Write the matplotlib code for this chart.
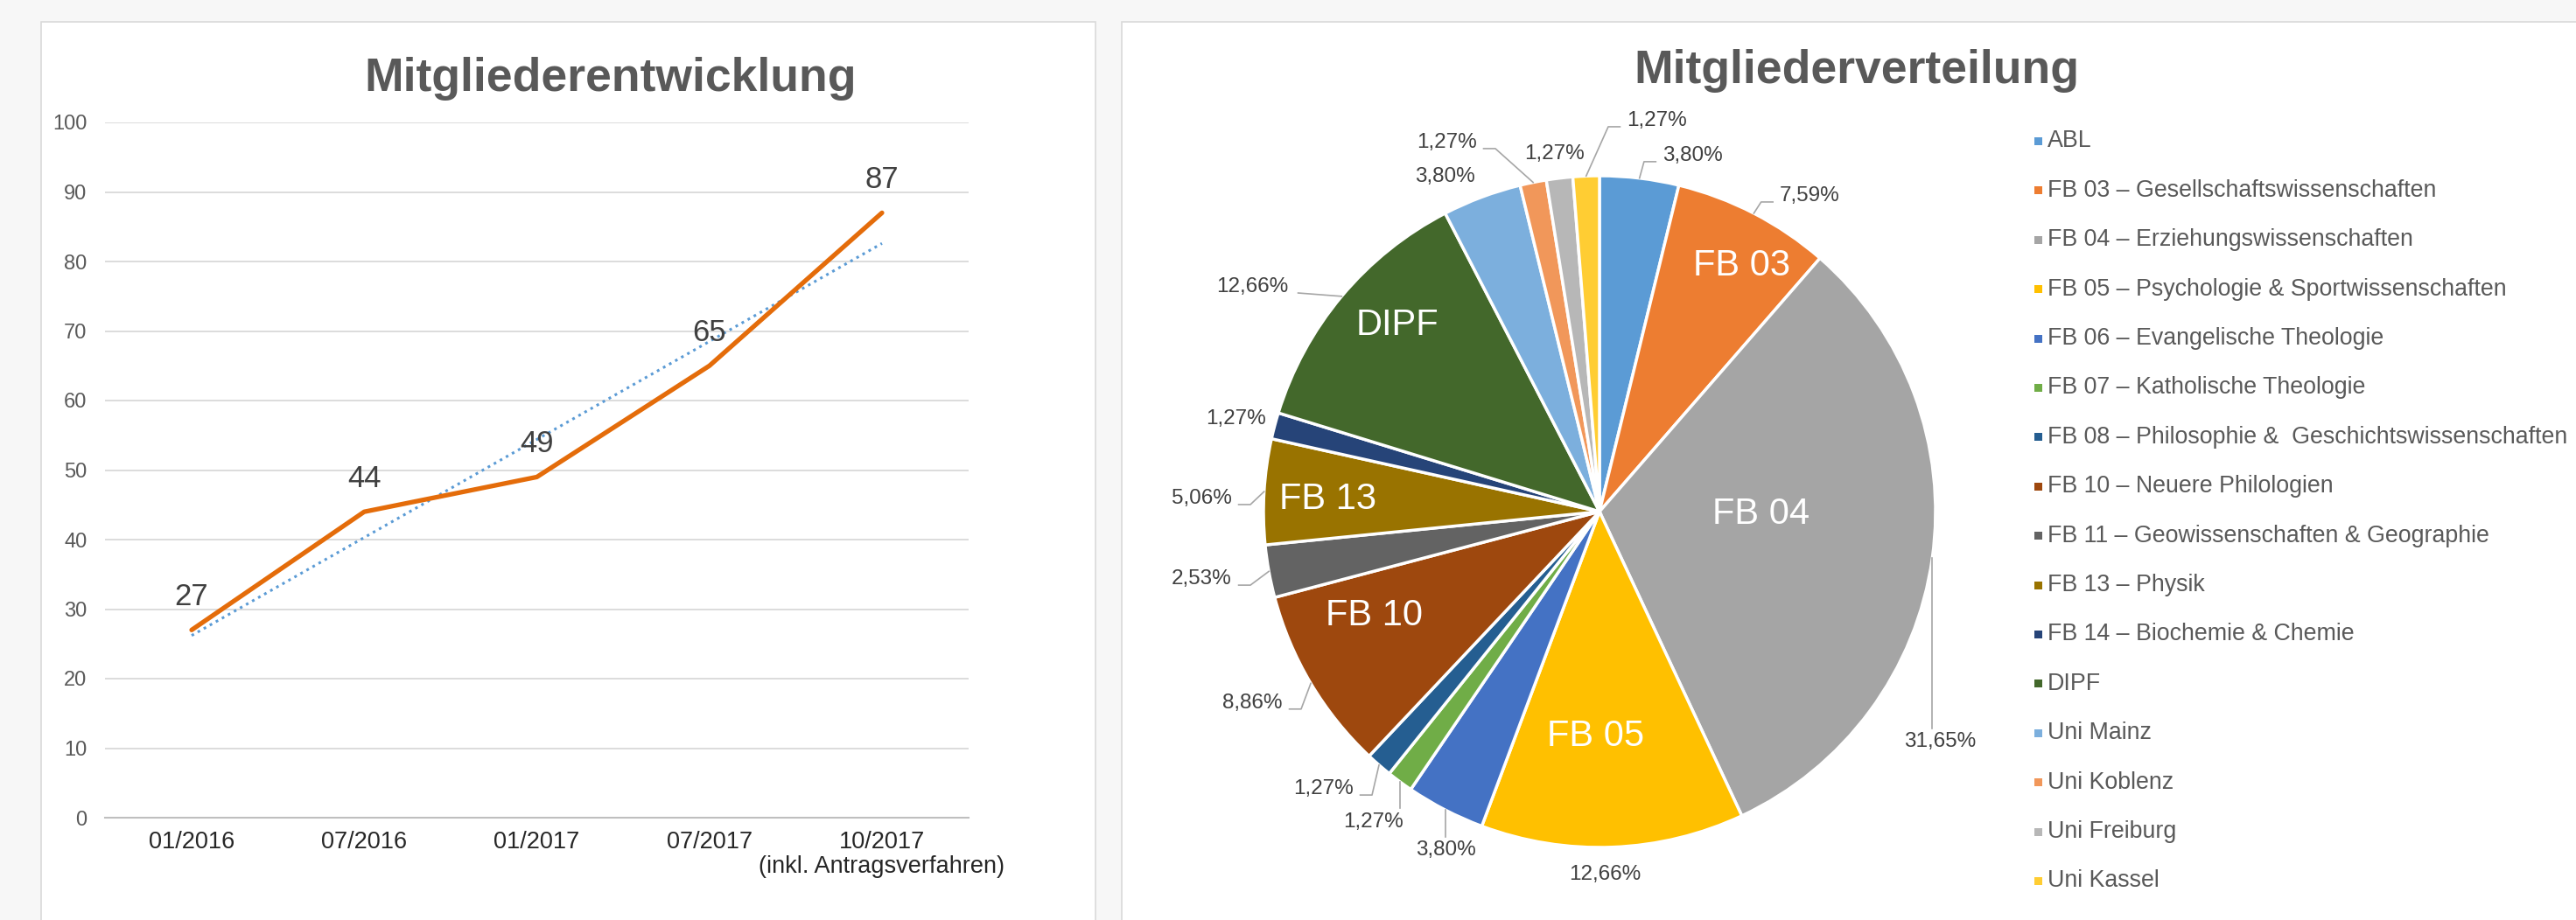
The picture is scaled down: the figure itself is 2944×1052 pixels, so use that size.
import numpy as np
import matplotlib.pyplot as plt
from matplotlib.patches import Rectangle

plt.rcParams['font.family'] = ['Liberation Sans', 'DejaVu Sans']

W, H = 2944, 1052

# line chart
dates = ['01/2016', '07/2016', '01/2017', '07/2017', '10/2017\n(inkl. Antragsverfahren)']
members = [27, 44, 49, 65, 87]

# pie chart
groups = ['ABL',
          'FB 03 – Gesellschaftswissenschaften',
          'FB 04 – Erziehungswissenschaften',
          'FB 05 – Psychologie & Sportwissenschaften',
          'FB 06 – Evangelische Theologie',
          'FB 07 – Katholische Theologie',
          'FB 08 – Philosophie &  Geschichtswissenschaften',
          'FB 10 – Neuere Philologien',
          'FB 11 – Geowissenschaften & Geographie',
          'FB 13 – Physik',
          'FB 14 – Biochemie & Chemie',
          'DIPF',
          'Uni Mainz',
          'Uni Koblenz',
          'Uni Freiburg',
          'Uni Kassel']
counts = [3, 6, 25, 10, 3, 1, 1, 7, 2, 4, 1, 10, 3, 1, 1, 1]
short = ['', 'FB 03', 'FB 04', 'FB 05', '', '', '', 'FB 10', '', 'FB 13', '', 'DIPF', '', '', '', '']
colors = ['#5B9BD5', '#ED7D31', '#A5A5A5', '#FFC000', '#4472C4', '#70AD47',
          '#255E91', '#9E480E', '#636363', '#997300', '#264478', '#43682B',
          '#7CAFDD', '#F1975A', '#B7B7B7', '#FFCD33']

# label layout (pie radius units): inner (r, angle shift), outer (x, y, ha, leader)
inner_pos = {1: (0.845, -2.7), 2: (0.48, 7.0), 3: (0.67, -3.3),
             7: (0.74, -5.9), 9: (0.81, 0.8), 11: (0.82, -2.8)}
pct_pos = [(0.1875, 1.060, 'left', 'elbow'),
           (0.536, 0.940, 'left', 'elbow'),
           (1.013, -0.685, 'center', 'vert'),
           (0.016, -1.081, 'center', 'none'),
           (-0.456, -1.008, 'center', 'vert'),
           (-0.674, -0.924, 'center', 'vert'),
           (-0.732, -0.826, 'right', 'elbow'),
           (-0.943, -0.570, 'right', 'elbow'),
           (-1.094, -0.201, 'right', 'elbow'),
           (-1.094, 0.039, 'right', 'elbow'),
           (-1.081, 0.276, 'center', 'none'),
           (-0.927, 0.669, 'right', 'straight'),
           (-0.461, 0.997, 'center', 'none'),
           (-0.365, 1.099, 'right', 'elbow'),
           (-0.135, 1.065, 'center', 'none'),
           (0.081, 1.164, 'left', 'elbow')]

fig = plt.figure(figsize=(W / 100, H / 100), dpi=100, facecolor='#F7F7F7')

def px(x, y, w, h):
    return [x / W, 1 - (y + h) / H, w / W, h / H]

# panels
for x0, x1 in [(47, 1252), (1282, 2990)]:
    fig.patches.append(Rectangle((x0 / W, -0.1), (x1 - x0) / W, 1 - 25 / H + 0.1,
                                 transform=fig.transFigure, facecolor='white',
                                 edgecolor='#D9D9D9', lw=1.2, zorder=-5))

fig.text(698 / W, 1 - 104 / H, 'Mitgliederentwicklung', ha='center', va='baseline',
         fontsize=38.5, fontweight='bold', color='#595959')
fig.text(2122 / W, 1 - 95 / H, 'Mitgliederverteilung', ha='center', va='baseline',
         fontsize=38.5, fontweight='bold', color='#595959')

# ---- line chart
ax = fig.add_axes(px(120.4, 140, 986.2, 795))
ax.set_facecolor('none')
x = np.arange(len(members))
ax.set_xlim(-0.5, 4.5)
ax.set_ylim(0, 100)
ax.set_yticks(range(0, 101, 10))
ax.set_xticks(x)
ax.set_xticklabels(dates, fontsize=19.5, color='#262626', linespacing=1.1)
ax.tick_params(axis='y', labelsize=17, labelcolor='#595959', length=0, pad=15)
ax.tick_params(axis='x', length=0, pad=11)
ax.grid(axis='y', color='#D9D9D9', lw=1.3)
ax.set_axisbelow(True)
for s in ['top', 'right', 'left']:
    ax.spines[s].set_visible(False)
ax.spines['bottom'].set_color('#BFBFBF')
ax.spines['bottom'].set_linewidth(1.5)

coef = np.polyfit(x, members, 1)
ax.plot(x, np.polyval(coef, x), color='#5B9BD5', lw=2.2, ls=(0, (1, 1.6)), zorder=2)
ax.plot(x, members, color='#E46C0A', lw=3.8, solid_capstyle='round', zorder=3)
for i, v in enumerate(members):
    ax.annotate(str(v), (i, v), xytext=(0, 27), textcoords='offset points',
                ha='center', va='center', fontsize=25, color='#404040', zorder=4)

# ---- pie chart
cx, cy, R, k = 1828, 585, 384, 1.5
pax = fig.add_axes(px(cx - R * k, cy - R * k, 2 * R * k, 2 * R * k))

total = sum(counts)
wedges, _ = pax.pie(counts, colors=colors, startangle=90, counterclock=False, radius=1,
                    wedgeprops=dict(edgecolor='white', linewidth=2.5))
pax.set_xlim(-k, k)
pax.set_ylim(-k, k)
pax.set_aspect('equal')
pax.axis('off')

for i, w in enumerate(wedges):
    mid = np.deg2rad((w.theta1 + w.theta2) / 2)
    if short[i]:
        r, dt = inner_pos[i]
        a = mid + np.deg2rad(dt)
        pax.text(r * np.cos(a), r * np.sin(a), short[i], ha='center', va='center',
                 fontsize=30, color='white')
    lx, ly, ha, lead = pct_pos[i]
    pct = f'{counts[i] / total * 100:.2f}'.replace('.', ',') + '%'
    pax.text(lx, ly, pct, ha=ha, va='center', fontsize=17.5, color='#404040')
    ex, ey = np.cos(mid), np.sin(mid)
    lc = dict(color='#A6A6A6', lw=1.2, zorder=1)
    if lead == 'vert':
        pax.plot([ex, ex], [ey, ly + 0.04], **lc)
    elif lead == 'elbow':
        sgn = -1 if ha == 'left' else 1
        yy = ly - 0.018
        pax.plot([ex, lx + sgn * 0.055, lx + sgn * 0.02], [ey, yy, yy], **lc)
    elif lead == 'straight':
        pax.plot([ex, lx + 0.03], [ey, ly - 0.018], **lc)

# legend
for i, g in enumerate(groups):
    yy = 161.5 + 56.4 * i
    fig.patches.append(Rectangle((2325 / W, 1 - (yy + 4.5) / H), 9 / W, 9 / H,
                                 transform=fig.transFigure, facecolor=colors[i],
                                 edgecolor='none', zorder=3))
    fig.text(2340 / W, 1 - yy / H, g, ha='left', va='center', fontsize=19.3, color='#595959')

fig.savefig('out.png', dpi=100, facecolor=fig.get_facecolor())
